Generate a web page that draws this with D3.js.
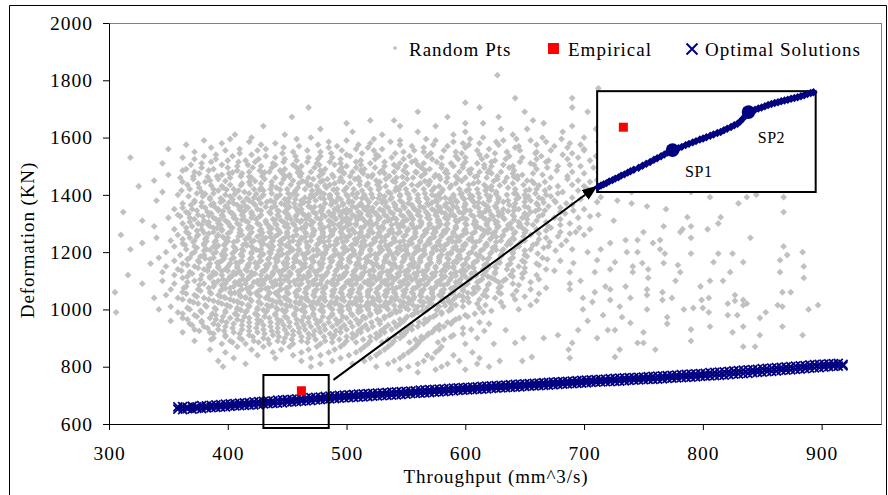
<!DOCTYPE html>
<html>
<head>
<meta charset="utf-8">
<script src="https://cdn.jsdelivr.net/npm/d3@7"></script>
<style>
  body { margin: 0; background: #fff; }
  text { font-family: "Liberation Serif", "Times New Roman", serif; }
</style>
</head>
<body>
<div id="chart"></div>
<script>
// tick labels
var xTicks = [300, 400, 500, 600, 700, 800, 900];
var yTicks = [600, 800, 1000, 1200, 1400, 1600, 1800, 2000];

// Random Pts, one row per deformation level: [deformation, throughput, throughput, ...]
var randomRows = [
  [1818, 627], [1772, 712], [1738, 690, 642], [1722, 600, 735], [1705, 468, 690, 612],
  [1690, 560, 703, 650], [1672, 454, 585, 628, 720], [1660, 520, 657, 540],
  [1650, 500, 600, 666, 760, 615], [1640, 430, 545, 690, 575], [1630, 478, 630, 652, 710],
  [1620, 505, 560, 682, 600, 735], [1610, 406, 448, 530, 590, 640, 780],
  [1600, 420, 470, 615, 665, 700, 725], [1590, 380, 500, 545, 575, 632, 655, 745],
  [1580, 395, 440, 520, 598, 612, 688], [1570, 460, 492, 555, 585, 645, 675, 770],
  [1560, 350, 410, 432, 508, 530, 620, 700, 730],
  [1550, 372, 455, 478, 548, 565, 592, 635, 660, 715, 800, 870],
  [1540, 390, 420, 500, 525, 612, 682, 750],
  [1530, 318, 362, 440, 468, 488, 538, 580, 600, 648, 695, 725],
  [1520, 400, 415, 458, 512, 558, 625, 670, 705, 785],
  [1510, 345, 378, 438, 475, 495, 520, 545, 565, 588, 610, 655, 740, 860],
  [1500, 408, 428, 462, 500, 532, 550, 590, 622, 640, 678, 697, 722],
  [1490, 365, 388, 448, 482, 515, 570, 605, 660, 760],
  [1480, 372, 418, 435, 470, 505, 540, 558, 595, 612, 630, 690, 712, 830],
  [1470, 350, 395, 452, 488, 522, 575, 648, 665, 740, 775, 885],
  [1460, 360, 402, 420, 440, 468, 495, 510, 542, 556, 585, 600, 618, 635, 672, 718],
  [1452, 711], [1450, 338, 385, 455, 480, 525, 570, 652, 695, 750, 805],
  [1440, 375, 412, 428, 445, 460, 490, 503, 518, 548, 562, 592, 607, 640, 658],
  [1430, 325, 395, 475, 533, 578, 622, 678, 700, 730, 765, 860],
  [1420, 368, 388, 405, 422, 436, 450, 465, 492, 506, 520, 550, 565, 595, 610, 642, 660, 703],
  [1410, 345, 378, 414, 478, 535, 580, 626, 682, 740, 790],
  [1400, 358, 398, 430, 444, 458, 470, 486, 500, 515, 528, 545, 560, 572, 590, 604, 618, 635, 650, 668, 845],
  [1392, 714, 806, 837, 868],
  [1390, 385, 410, 422, 452, 465, 478, 493, 508, 522, 538, 553, 567, 583, 598, 612, 628, 645, 662, 690],
  [1380, 340, 372, 396, 418, 436, 462, 474, 488, 502, 530, 545, 560, 575, 592, 606, 620, 636, 655, 675, 728],
  [1370, 362, 388, 405, 428, 445, 456, 482, 497, 512, 525, 540, 552, 568, 584, 600, 615, 642, 660, 685, 740, 830],
  [1360, 378, 398, 415, 440, 468, 478, 505, 518, 533, 548, 562, 577, 590, 608, 625, 650, 670, 753],
  [1350, 355, 370, 392, 410, 425, 450, 462, 490, 500, 515, 528, 542, 557, 572, 586, 600, 618, 632, 645, 662, 700, 769],
  [1340, 312, 365, 383, 402, 420, 435, 448, 472, 485, 510, 523, 537, 552, 567, 580, 595, 612, 628, 655, 680, 868],
  [1330, 358, 375, 395, 412, 428, 442, 458, 468, 480, 495, 505, 518, 532, 546, 560, 575, 590, 605, 622, 640, 665, 712],
  [1322, 787, 815],
  [1320, 350, 368, 388, 405, 420, 450, 475, 490, 500, 512, 528, 540, 555, 568, 583, 598, 615, 632, 648, 675, 695],
  [1310, 328, 380, 398, 415, 432, 445, 462, 470, 485, 520, 535, 548, 562, 578, 592, 608, 625, 660, 725],
  [1300, 362, 375, 392, 408, 425, 440, 455, 478, 495, 508, 525, 542, 555, 570, 585, 600, 618, 638, 652, 688, 813],
  [1290, 338, 370, 385, 402, 418, 435, 448, 465, 485, 500, 515, 530, 548, 562, 578, 592, 610, 628, 645, 670, 767, 790],
  [1280, 355, 378, 395, 410, 428, 442, 458, 472, 490, 505, 520, 538, 552, 568, 585, 600, 620, 635, 660, 705, 783, 804],
  [1270, 365, 388, 402, 420, 435, 450, 465, 480, 495, 512, 528, 545, 558, 575, 590, 608, 625, 642, 680, 693, 750, 781],
  [1260, 310, 358, 375, 392, 412, 428, 442, 458, 472, 488, 503, 518, 535, 550, 565, 580, 598, 615, 632, 655, 700],
  [1250, 340, 368, 382, 400, 418, 432, 448, 462, 478, 495, 510, 525, 540, 556, 572, 588, 605, 622, 640, 668, 790, 840],
  [1242, 735, 745, 764],
  [1240, 352, 372, 390, 408, 422, 438, 455, 470, 485, 500, 515, 532, 548, 562, 578, 595, 612, 630, 650, 685],
  [1232, 328, 722, 758],
  [1230, 362, 380, 398, 415, 430, 445, 460, 476, 492, 508, 522, 538, 555, 570, 585, 600, 618, 638, 660],
  [1220, 355, 372, 388, 405, 420, 438, 452, 468, 482, 498, 512, 528, 545, 560, 575, 592, 608, 625, 645, 670, 868],
  [1210, 318, 365, 382, 398, 412, 428, 445, 460, 475, 490, 505, 520, 535, 550, 565, 582, 598, 615, 632, 655, 690, 714, 764],
  [1200, 348, 372, 390, 405, 420, 435, 452, 468, 482, 498, 512, 528, 542, 558, 572, 588, 605, 622, 640, 703, 736, 745, 884],
  [1195, 768, 790, 813, 825],
  [1190, 360, 380, 398, 412, 428, 442, 458, 475, 490, 505, 520, 535, 550, 565, 580, 595, 612, 630, 650, 871],
  [1180, 342, 368, 388, 405, 420, 435, 450, 465, 480, 495, 510, 525, 540, 555, 570, 585, 602, 620, 640, 665],
  [1172, 711, 865],
  [1170, 355, 375, 395, 412, 428, 442, 458, 472, 488, 502, 518, 532, 548, 562, 578, 592, 610, 628, 648, 680],
  [1165, 726, 809, 834], [1162, 691, 749, 767],
  [1160, 335, 362, 385, 402, 418, 435, 450, 465, 480, 495, 510, 525, 540, 555, 570, 585, 600, 618, 638, 660],
  [1155, 779],
  [1150, 348, 372, 392, 408, 425, 440, 455, 470, 486, 500, 515, 530, 546, 560, 575, 590, 606, 625, 645, 741, 885],
  [1140, 358, 380, 398, 415, 432, 448, 462, 478, 492, 508, 522, 538, 552, 568, 582, 598, 615, 635, 668, 722, 754],
  [1130, 345, 368, 388, 405, 420, 438, 452, 468, 484, 500, 515, 530, 545, 560, 575, 592, 608, 625, 650, 688, 709, 741, 781, 823, 865],
  [1120, 316, 355, 378, 395, 412, 428, 445, 460, 475, 490, 505, 520, 535, 550, 565, 580, 598, 615, 638, 660],
  [1110, 362, 385, 402, 418, 435, 450, 466, 480, 496, 512, 528, 542, 558, 572, 588, 605, 622, 648, 754, 885],
  [1100, 345, 372, 392, 410, 425, 440, 456, 472, 488, 502, 518, 532, 548, 562, 578, 595, 612, 632, 697, 777, 806, 817],
  [1090, 328, 355, 380, 398, 415, 430, 445, 462, 478, 492, 508, 522, 538, 552, 568, 585, 602, 620, 640, 688],
  [1080, 365, 388, 405, 420, 438, 452, 468, 482, 498, 512, 528, 545, 560, 575, 592, 610, 630, 718, 735, 798],
  [1070, 352, 375, 395, 412, 428, 445, 460, 475, 490, 505, 520, 535, 550, 565, 582, 598, 618, 655, 688, 722, 753],
  [1060, 305, 362, 385, 402, 418, 435, 450, 465, 480, 495, 510, 525, 540, 555, 572, 590, 608, 628, 709, 766, 867, 874],
  [1050, 348, 372, 392, 410, 425, 442, 458, 472, 488, 502, 518, 532, 548, 562, 578, 595, 615, 640, 753, 827],
  [1040, 338, 358, 380, 398, 415, 432, 448, 462, 478, 492, 508, 522, 538, 552, 568, 585, 602, 625, 699, 739, 774, 805],
  [1033, 722, 766, 799, 834],
  [1030, 368, 388, 405, 420, 438, 452, 468, 482, 498, 512, 528, 545, 562, 580, 598, 660, 827],
  [1026, 707],
  [1020, 375, 395, 412, 428, 445, 460, 475, 490, 505, 520, 535, 552, 570, 588, 610, 837, 821],
  [1015, 834, 863, 897],
  [1010, 352, 382, 402, 418, 435, 450, 465, 480, 496, 512, 528, 545, 560, 578, 598, 632, 730, 867],
  [1005, 792, 800],
  [1000, 342, 368, 390, 408, 425, 442, 458, 472, 488, 502, 518, 535, 552, 568, 588, 645, 699, 753, 784, 889],
  [990, 306, 358, 378, 398, 415, 432, 448, 465, 480, 495, 510, 526, 542, 560, 580, 615, 805, 853],
  [980, 372, 390, 408, 425, 440, 456, 472, 488, 505, 520, 536, 555, 575, 600, 716, 821, 829],
  [973, 732, 770],
  [970, 362, 385, 402, 418, 435, 450, 468, 485, 500, 516, 532, 550, 570, 595, 848],
  [960, 352, 378, 395, 412, 428, 445, 462, 478, 495, 512, 528, 548, 568, 590, 703],
  [953, 739],
  [950, 368, 388, 405, 425, 442, 458, 475, 492, 510, 528, 545, 565, 588, 620, 770],
  [940, 380, 398, 418, 436, 452, 470, 488, 505, 522, 542, 560, 582, 806, 834, 867],
  [930, 372, 392, 412, 430, 448, 465, 482, 500, 518, 538, 555, 578, 605, 790],
  [928, 634, 695, 720, 726],
  [920, 362, 385, 405, 425, 442, 460, 478, 495, 512, 532, 550, 572, 750, 825],
  [910, 398, 418, 438, 455, 472, 490, 508, 528, 548, 568, 590, 678, 848, 884],
  [900, 388, 410, 430, 448, 468, 488, 505, 525, 545, 565, 610, 649, 666, 711],
  [890, 372, 402, 422, 442, 462, 482, 500, 520, 540, 562, 790],
  [883, 642, 690, 745, 750],
  [880, 395, 415, 435, 455, 478, 498, 518, 538, 560, 600, 624],
  [870, 408, 430, 452, 475, 495, 515, 535, 558, 580, 834, 844],
  [860, 385, 420, 445, 468, 490, 512, 532, 555, 578, 687, 730, 760],
  [850, 398, 438, 462, 485, 508, 528, 552, 575, 606],
  [840, 425, 455, 478, 502, 525, 548, 568, 590],
  [834, 656, 726],
  [830, 405, 440, 470, 495, 520, 545, 572, 612, 688],
  [820, 392, 462, 488, 515, 540, 565, 595, 629, 648],
  [810, 415, 478, 505, 535, 560, 585, 610],
  [800, 396, 470, 525, 552, 580, 620],
  [790, 545, 575, 600], [780, 560]
];

// Random Pts in between the rows above, where the cloud is denser
var randomRowsB = [
  [1595, 402, 458, 523, 567, 604, 643, 681],
  [1585, 418, 485, 537, 590, 626, 668, 712],
  [1575, 365, 428, 476, 510, 545, 573, 603, 628, 660, 697],
  [1565, 386, 447, 485, 518, 565, 600, 642, 686, 745],
  [1555, 398, 425, 467, 496, 523, 557, 582, 610, 646, 672, 700],
  [1545, 410, 446, 487, 513, 541, 571, 597, 625, 659, 690, 725],
  [1535, 380, 404, 432, 457, 478, 503, 527, 553, 568, 592, 618, 637, 664, 710],
  [1525, 372, 390, 426, 448, 476, 495, 524, 548, 572, 594, 614, 634, 660, 686],
  [1515, 386, 409, 423, 447, 467, 486, 508, 532, 555, 576, 600, 622, 646, 668, 720],
  [1505, 369, 395, 417, 440, 455, 477, 490, 512, 540, 560, 580, 598, 616, 632, 658, 688],
  [1495, 378, 400, 421, 437, 458, 473, 496, 508, 524, 543, 563, 580, 598, 616, 637, 669, 708],
  [1485, 362, 384, 408, 427, 444, 460, 478, 494, 512, 530, 548, 566, 584, 603, 620, 641, 677],
  [1475, 376, 401, 412, 430, 446, 462, 480, 498, 514, 532, 551, 566, 585, 604, 622, 640, 657, 700],
  [1465, 371, 391, 411, 429, 448, 461, 477, 503, 518, 536, 563, 578, 592, 610, 627, 644, 686, 730],
  [1455, 371, 392, 431, 447, 472, 484, 507, 533, 551, 579, 594, 627, 644, 686],
  [1445, 362, 381, 418, 437, 466, 478, 497, 528, 541, 570, 584, 611, 633, 667, 705],
  [1435, 366, 402, 419, 453, 470, 486, 511, 526, 555, 569, 603, 616, 649, 690],
  [1425, 376, 396, 428, 441, 459, 483, 500, 528, 542, 574, 587, 618, 636, 671, 718],
  [1415, 361, 392, 409, 430, 457, 471, 498, 513, 541, 557, 572, 601, 617, 651, 667, 695],
  [1405, 374, 388, 418, 437, 451, 475, 492, 509, 537, 551, 566, 597, 611, 641, 659, 678],
  [1395, 367, 379, 402, 429, 441, 472, 486, 501, 515, 532, 545, 575, 590, 606, 621, 653, 672],
  [1385, 385, 404, 426, 448, 457, 481, 495, 517, 537, 553, 568, 587, 599, 628, 643, 665, 697],
  [1375, 372, 394, 413, 433, 451, 468, 491, 505, 519, 533, 561, 576, 593, 607, 632, 650, 676, 711],
  [1365, 369, 386, 408, 423, 448, 461, 487, 497, 511, 541, 555, 569, 583, 600, 617, 637, 661, 690],
  [1355, 362, 381, 400, 417, 437, 457, 470, 480, 508, 522, 535, 549, 565, 579, 593, 611, 626, 653, 680],
  [1345, 374, 392, 411, 428, 442, 460, 479, 493, 503, 517, 530, 545, 559, 574, 588, 604, 620, 641, 667, 691],
  [1335, 367, 386, 404, 420, 436, 450, 463, 474, 489, 500, 512, 525, 539, 553, 568, 583, 598, 614, 631, 650, 684],
  [1325, 360, 379, 396, 413, 427, 443, 457, 468, 482, 495, 507, 520, 534, 548, 562, 576, 591, 607, 623, 641, 662, 705],
  [1315, 372, 390, 407, 424, 438, 453, 466, 478, 491, 503, 514, 527, 542, 556, 570, 585, 601, 617, 633, 652, 680],
  [1305, 368, 384, 400, 417, 432, 447, 461, 472, 487, 500, 516, 532, 548, 563, 577, 593, 609, 627, 645, 668],
  [1295, 378, 394, 410, 427, 441, 456, 470, 478, 493, 508, 522, 538, 555, 570, 584, 601, 618, 636, 657, 680],
  [1285, 365, 388, 404, 420, 435, 451, 465, 481, 495, 512, 527, 544, 559, 576, 592, 609, 627, 648, 672, 696],
  [1275, 374, 395, 411, 427, 443, 457, 473, 487, 502, 519, 536, 551, 566, 582, 599, 616, 633, 651, 668],
  [1265, 367, 384, 400, 419, 436, 450, 466, 480, 496, 511, 527, 543, 558, 573, 590, 606, 623, 641, 662, 688],
  [1255, 374, 391, 409, 425, 440, 455, 470, 486, 502, 518, 533, 548, 564, 580, 596, 614, 631, 649, 678],
  [1245, 362, 381, 398, 415, 430, 446, 462, 477, 492, 507, 523, 540, 555, 570, 586, 603, 621, 641, 662],
  [1235, 371, 389, 405, 420, 437, 452, 466, 481, 497, 513, 529, 545, 562, 577, 592, 609, 626, 647, 671],
  [1225, 364, 380, 397, 413, 429, 444, 459, 475, 490, 505, 520, 536, 552, 567, 583, 600, 617, 635, 657, 681],
  [1215, 374, 390, 406, 421, 436, 452, 467, 483, 497, 513, 528, 543, 558, 573, 590, 607, 623, 642, 666],
  [1205, 380, 397, 413, 427, 443, 460, 476, 490, 506, 520, 536, 550, 565, 580, 596, 613, 631, 650, 676],
  [1195, 370, 388, 404, 420, 436, 450, 466, 482, 497, 512, 527, 543, 557, 572, 588, 603, 621, 640, 661],
  [1185, 377, 396, 412, 427, 443, 457, 472, 488, 503, 518, 533, 548, 563, 578, 594, 611, 630, 652],
  [1175, 366, 385, 403, 419, 434, 450, 465, 480, 496, 511, 525, 540, 555, 570, 586, 601, 619, 638, 669],
  [1165, 376, 393, 410, 426, 441, 456, 472, 487, 503, 517, 532, 547, 562, 578, 593, 608, 627, 650],
  [1155, 366, 384, 401, 417, 432, 448, 463, 478, 493, 508, 523, 538, 553, 568, 583, 598, 616, 636, 662],
  [1145, 375, 392, 408, 424, 440, 455, 470, 485, 500, 515, 530, 545, 560, 575, 590, 607, 626, 650],
  [1135, 361, 383, 400, 416, 431, 446, 461, 476, 491, 507, 523, 537, 552, 567, 583, 600, 617, 640, 675],
  [1125, 370, 390, 407, 423, 438, 453, 468, 483, 498, 513, 528, 543, 557, 572, 588, 605, 625, 648],
  [1115, 366, 385, 402, 418, 433, 449, 464, 479, 494, 508, 523, 538, 553, 567, 583, 600, 619, 640],
  [1105, 377, 396, 413, 428, 444, 459, 474, 489, 505, 520, 535, 550, 565, 580, 596, 614, 634, 662],
  [1095, 366, 388, 406, 422, 437, 452, 468, 484, 500, 515, 530, 545, 560, 576, 592, 610, 628, 655],
  [1085, 376, 395, 411, 428, 444, 460, 475, 490, 505, 520, 535, 551, 566, 582, 600, 619, 645],
  [1075, 363, 384, 402, 418, 434, 450, 467, 482, 497, 512, 527, 542, 558, 574, 590, 607, 628, 668],
  [1065, 377, 394, 410, 426, 443, 458, 473, 488, 503, 518, 533, 548, 563, 580, 598, 617, 643],
  [1055, 365, 386, 403, 419, 435, 451, 466, 481, 496, 511, 526, 541, 556, 572, 588, 606, 630, 662],
  [1045, 374, 394, 411, 427, 443, 458, 473, 488, 503, 518, 533, 548, 563, 580, 598, 618, 650],
  [1035, 362, 384, 402, 419, 435, 450, 466, 481, 496, 511, 526, 541, 556, 572, 590, 612, 642],
  [1025, 371, 392, 409, 426, 441, 457, 472, 487, 503, 518, 533, 548, 565, 582, 603, 630],
  [1015, 381, 399, 417, 433, 449, 464, 479, 494, 509, 524, 540, 556, 573, 592, 617, 655],
  [1005, 366, 389, 408, 425, 441, 457, 472, 487, 502, 518, 534, 550, 568, 588, 612],
  [995, 377, 398, 416, 433, 449, 464, 480, 496, 512, 528, 545, 564, 586, 622],
  [985, 362, 387, 406, 423, 440, 456, 472, 488, 504, 520, 538, 557, 580, 608],
  [975, 374, 396, 414, 431, 448, 464, 480, 497, 514, 532, 551, 573, 602],
  [965, 366, 390, 408, 425, 442, 458, 474, 491, 508, 526, 545, 566, 592],
  [955, 378, 399, 418, 436, 452, 468, 485, 503, 521, 540, 561, 585, 612],
  [945, 370, 392, 412, 430, 447, 464, 481, 498, 516, 535, 555, 578],
  [935, 383, 404, 424, 442, 460, 477, 495, 513, 532, 552, 575, 598],
  [925, 376, 397, 418, 437, 455, 473, 491, 510, 529, 550, 573, 616],
  [915, 388, 410, 431, 450, 468, 486, 505, 525, 546, 569, 598],
  [905, 398, 421, 443, 462, 481, 500, 520, 541, 563, 588],
  [895, 386, 412, 434, 454, 474, 494, 514, 535, 558, 582],
  [885, 404, 426, 447, 467, 488, 508, 530, 553, 577]
];

// Random Pts of the dense core of the cloud
var randomRowsC = [
  [1478, 404, 431, 459, 497, 528, 559, 583, 619],
  [1463, 383, 418, 452, 489, 521, 547, 574, 608, 641],
  [1448, 398, 423, 463, 494, 511, 539, 566, 597, 624, 656],
  [1433, 386, 411, 437, 468, 482, 517, 546, 560, 588, 629, 662],
  [1418, 399, 427, 444, 476, 489, 527, 544, 581, 603, 622, 654],
  [1403, 381, 406, 424, 455, 481, 505, 521, 552, 578, 596, 626, 643],
  [1388, 394, 416, 441, 469, 486, 513, 527, 560, 579, 604, 620, 651],
  [1373, 378, 401, 421, 439, 464, 488, 502, 530, 547, 572, 588, 611, 627, 666],
  [1358, 389, 411, 432, 452, 473, 493, 514, 541, 556, 584, 599, 619, 641],
  [1343, 396, 414, 443, 459, 478, 497, 520, 531, 561, 577, 600, 617, 636, 659],
  [1328, 384, 405, 421, 451, 465, 487, 511, 526, 554, 569, 587, 612, 628, 652],
  [1313, 393, 412, 440, 458, 478, 497, 509, 537, 551, 577, 595, 620, 641],
  [1298, 383, 401, 433, 450, 466, 489, 503, 519, 546, 563, 579, 607, 626, 646],
  [1283, 391, 417, 437, 462, 478, 497, 513, 531, 557, 573, 592, 613, 639],
  [1268, 380, 410, 429, 444, 472, 488, 507, 522, 539, 567, 583, 601, 619, 650],
  [1253, 396, 417, 436, 451, 465, 481, 499, 514, 529, 558, 574, 593, 626],
  [1238, 382, 400, 427, 444, 460, 478, 491, 508, 524, 541, 553, 569, 589, 606, 637],
  [1223, 392, 416, 434, 449, 467, 486, 504, 516, 533, 549, 566, 579, 598, 618, 644],
  [1208, 385, 407, 424, 437, 455, 472, 483, 501, 513, 530, 546, 561, 576, 593, 626],
  [1193, 395, 411, 430, 446, 463, 479, 493, 507, 524, 538, 552, 566, 585, 609, 631],
  [1178, 381, 397, 419, 440, 456, 470, 486, 502, 516, 533, 549, 562, 578, 596, 615],
  [1163, 391, 407, 423, 447, 461, 477, 494, 509, 521, 536, 557, 571, 590, 607, 629],
  [1148, 384, 400, 417, 433, 450, 465, 479, 496, 512, 527, 542, 556, 568, 586, 603, 620],
  [1133, 395, 410, 429, 443, 459, 473, 491, 506, 519, 534, 549, 564, 580, 596, 617],
  [1118, 387, 404, 420, 437, 452, 469, 482, 498, 513, 528, 544, 559, 574, 592, 609],
  [1103, 400, 416, 431, 448, 462, 479, 493, 509, 525, 540, 555, 570, 587, 603, 625],
  [1088, 389, 409, 426, 441, 457, 472, 488, 503, 518, 533, 547, 562, 579, 596],
  [1073, 398, 416, 432, 449, 466, 480, 496, 511, 526, 539, 556, 571, 588, 611],
  [1058, 406, 424, 440, 457, 473, 489, 504, 518, 534, 549, 563, 581, 602],
  [1043, 397, 415, 433, 448, 466, 481, 497, 512, 527, 542, 557, 573, 592],
  [1028, 408, 426, 444, 461, 476, 491, 507, 522, 537, 553, 570, 586],
  [1013, 400, 418, 437, 453, 470, 485, 501, 516, 531, 547, 564, 583],
  [998, 411, 430, 446, 462, 478, 494, 510, 525, 541, 558, 576]
];

// Optimal Solutions: [throughput, deformation, deformation]
var optimalRows = [
  [358, 652, 660], [362, 650, 661], [366, 654, 658], [370, 652, 662], [374, 655, 660],
  [378, 654, 664], [382, 656, 663], [386, 657, 665], [390, 658, 667], [394, 659, 668],
  [398, 660, 669], [402, 662, 670], [406, 663, 671], [410, 664, 673], [414, 665, 674],
  [418, 666, 675], [422, 667, 677], [426, 668, 678], [430, 670, 679], [434, 671, 680],
  [438, 672, 681], [442, 673, 683], [446, 674, 684], [450, 676, 685], [454, 677, 686],
  [458, 678, 688], [462, 680, 689], [466, 681, 690], [470, 682, 692], [474, 684, 693],
  [478, 685, 694], [482, 686, 696], [486, 688, 697], [490, 689, 698], [494, 690, 700],
  [498, 691, 701], [502, 692, 702], [506, 693, 703], [510, 694, 704], [514, 695, 705],
  [518, 696, 706], [522, 697, 707], [526, 698, 708], [530, 699, 709], [534, 700, 710],
  [538, 701, 711], [542, 702, 712], [546, 703, 713], [550, 704, 714], [554, 706, 715],
  [558, 707, 716], [562, 708, 718], [566, 709, 719], [570, 710, 720], [574, 711, 721],
  [578, 712, 722], [582, 713, 723], [586, 715, 724], [590, 716, 725], [594, 717, 726],
  [598, 718, 727], [602, 719, 728], [606, 720, 729], [610, 721, 730], [614, 722, 731],
  [618, 723, 732], [622, 724, 733], [626, 725, 734], [630, 726, 735], [634, 727, 736],
  [638, 728, 737], [642, 729, 738], [646, 730, 739], [650, 731, 740], [654, 732, 741],
  [658, 733, 742], [662, 734, 743], [666, 735, 744], [670, 736, 745], [674, 737, 746],
  [678, 738, 747], [682, 739, 748], [686, 740, 749], [690, 741, 750], [694, 742, 751],
  [698, 743, 752], [702, 744, 753], [706, 745, 754], [710, 746, 755], [714, 747, 756],
  [718, 748, 757], [722, 748, 758], [726, 749, 759], [730, 750, 760], [734, 751, 761],
  [738, 752, 762], [742, 753, 762], [746, 754, 763], [750, 755, 764], [754, 756, 765],
  [758, 756, 766], [762, 757, 767], [766, 758, 768], [770, 759, 769], [774, 760, 770],
  [778, 761, 771], [782, 762, 772], [786, 763, 773], [790, 764, 774], [794, 765, 775],
  [798, 766, 776], [802, 767, 777], [806, 768, 779], [810, 769, 780], [814, 770, 781],
  [818, 771, 782], [822, 772, 784], [826, 774, 785], [830, 775, 786], [834, 776, 788],
  [838, 777, 789], [842, 779, 790], [846, 780, 791], [850, 781, 793], [854, 783, 794],
  [858, 784, 795], [862, 785, 797], [866, 787, 798], [870, 788, 799], [874, 789, 800],
  [878, 791, 802], [882, 792, 803], [886, 793, 804], [890, 795, 806], [894, 796, 807],
  [898, 797, 808], [902, 799, 809], [906, 800, 810], [910, 801, 811], [914, 802, 812],
  [918, 803, 808]
];

var empirical = [[462, 716]];

// magnified region, the box the magnified view sits in, and the arrow (data units)
var zoomBox = {x: [430, 485], y: [586, 771]};
var insetBox = {x: [711, 895], y: [1410, 1762]};
var arrowFrom = [489, 754], arrowTo = [711, 1431];

// magnified view contents
var insetDomainX = [440, 480], insetDomainY = [680, 720];
var insetLine = [
  [440.2, 682.0], [440.7, 682.6], [441.2, 683.1], [441.7, 683.5], [442.2, 684.2], [442.8, 684.7],
  [443.3, 685.3], [443.9, 685.8], [444.4, 686.5], [445.0, 687.0], [445.6, 687.7], [446.1, 688.2],
  [446.7, 688.8], [447.6, 689.6], [448.3, 690.4], [449.0, 691.2], [449.7, 691.9], [450.4, 692.8],
  [451.0, 693.4], [451.7, 694.2], [452.3, 694.9], [452.9, 695.6], [453.4, 696.1], [454.3, 697.0],
  [454.9, 697.4], [455.5, 697.9], [456.2, 698.6], [456.8, 699.1], [457.5, 699.7], [458.1, 700.2],
  [458.8, 700.8], [459.4, 701.2], [460.0, 701.7], [460.7, 702.3], [461.3, 702.8], [462.0, 703.4],
  [462.6, 703.8], [463.2, 704.5], [463.8, 705.1], [464.5, 705.8], [465.1, 706.5], [465.7, 707.1],
  [466.2, 708.0], [466.7, 709.2], [467.2, 710.4], [467.7, 711.6], [468.3, 712.1], [468.9, 712.6],
  [469.5, 713.1], [470.1, 713.5], [470.7, 714.0], [471.3, 714.5], [471.9, 714.9], [472.5, 715.3],
  [473.1, 715.6], [473.7, 716.0], [474.3, 716.3], [474.9, 716.6], [475.5, 717.0], [476.1, 717.3],
  [476.7, 717.6], [477.3, 718.0], [477.9, 718.4], [478.5, 718.9], [479.1, 719.3], [479.6, 719.6]
];
var insetEmpirical = [[444.8, 705.7]];
var spPoints = [[453.8, 696.6], [467.7, 711.7]];
var spNames = ["SP1", "SP2"];
var spLabelAt = [[456.1, 685.9], [469.4, 699.4]];

var legendNames = ["Random Pts", "Empirical", "Optimal Solutions"];

// set the dimensions and margins of the graph
var margin = {top: 23, right: 7, bottom: 71, left: 109},
    width = 888 - margin.left - margin.right,
    height = 495 - margin.top - margin.bottom;

var root = d3.select("#chart")
  .append("svg")
    .attr("width", 888)
    .attr("height", 495);

// outer frame
root.append("path")
  .attr("d", "M9.5,495V5.5H886.5V495")
  .attr("fill", "none")
  .attr("stroke", "#000")
  .attr("stroke-width", 1);

var svg = root.append("g")
  .attr("transform", "translate(" + margin.left + "," + margin.top + ")");

var x = d3.scaleLinear().domain([300, 950]).range([0, width]);
var y = d3.scaleLinear().domain([600, 2000]).range([height, 0]);

// plot border (top / right in grey)
svg.append("rect")
  .attr("x", 0.5).attr("y", 0.5)
  .attr("width", width).attr("height", height)
  .attr("fill", "#fff")
  .attr("stroke", "#808080");

var diamond = "M0,-3.4L3.4,0L0,3.4L-3.4,0Z";
var cross = "M-4.5,-4.5L4.5,4.5M-4.5,4.5L4.5,-4.5";

// random points
function rowsToPts(rows) {
  return rows.flatMap(function(r) {
    return r.slice(1).map(function(v) { return [v, r[0]]; });
  });
}
var randomPts = rowsToPts(randomRows)
  .concat(rowsToPts(randomRowsB))
  .concat(rowsToPts(randomRowsC));
svg.append("g")
  .selectAll("path")
  .data(randomPts)
  .enter()
  .append("path")
    .attr("d", diamond)
    .attr("transform", function(d) { return "translate(" + x(d[0]) + "," + y(d[1]) + ")"; })
    .attr("fill", "#c0c0c0");

// optimal solutions
var optimalPts = optimalRows.flatMap(function(r) {
  return r.slice(1).map(function(v) { return [r[0], v]; });
});
svg.append("g")
  .selectAll("path")
  .data(optimalPts)
  .enter()
  .append("path")
    .attr("d", cross)
    .attr("transform", function(d) { return "translate(" + x(d[0]) + "," + y(d[1]) + ")"; })
    .attr("fill", "none")
    .attr("stroke", "#000080")
    .attr("stroke-width", 1.8);

// empirical
svg.append("g")
  .selectAll("rect")
  .data(empirical)
  .enter()
  .append("rect")
    .attr("x", function(d) { return x(d[0]) - 4.5; })
    .attr("y", function(d) { return y(d[1]) - 4.5; })
    .attr("width", 9).attr("height", 9)
    .attr("fill", "#ff0000");

// Add X axis
var xAxis = svg.append("g")
  .attr("transform", "translate(0," + height + ")")
  .call(d3.axisBottom(x).tickValues(xTicks).tickFormat(d3.format("d")).tickSize(6).tickSizeOuter(0));
xAxis.selectAll("text").attr("y", 36).attr("dy", 0);

// Add Y axis
var yAxis = svg.append("g")
  .call(d3.axisLeft(y).tickValues(yTicks).tickFormat(d3.format("d")).tickSize(6).tickSizeOuter(0).tickPadding(10));

[xAxis, yAxis].forEach(function(a) {
  a.select(".domain").attr("stroke", "#000");
  a.selectAll("line").attr("stroke", "#000");
  a.selectAll("text")
    .attr("fill", "#000")
    .style("font-family", '"Liberation Serif", serif')
    .style("font-size", "19.5px")
    .style("letter-spacing", "1px");
});

// axis titles
root.append("text")
  .attr("x", 496).attr("y", 483)
  .attr("text-anchor", "middle")
  .style("font-size", "19px")
  .style("letter-spacing", "0.9px")
  .text("Throughput (mm^3/s)");

root.append("text")
  .attr("transform", "translate(34,240) rotate(-90)")
  .attr("text-anchor", "middle")
  .style("font-size", "19px")
  .style("letter-spacing", "0.9px")
  .text("Deformation (KN)");

// magnified region box
svg.append("rect")
  .attr("x", x(zoomBox.x[0])).attr("y", y(zoomBox.y[1]))
  .attr("width", x(zoomBox.x[1]) - x(zoomBox.x[0]))
  .attr("height", y(zoomBox.y[0]) - y(zoomBox.y[1]))
  .attr("fill", "none")
  .attr("stroke", "#000")
  .attr("stroke-width", 2);

// arrow
root.append("defs").append("marker")
  .attr("id", "head")
  .attr("markerUnits", "userSpaceOnUse")
  .attr("viewBox", "0 0 16 12")
  .attr("markerWidth", 16).attr("markerHeight", 12)
  .attr("refX", 15).attr("refY", 6)
  .attr("orient", "auto")
  .append("path")
    .attr("d", "M0,0L16,6L0,12Z")
    .attr("fill", "#000");

svg.append("line")
  .attr("x1", x(arrowFrom[0])).attr("y1", y(arrowFrom[1]))
  .attr("x2", x(arrowTo[0])).attr("y2", y(arrowTo[1]))
  .attr("stroke", "#000")
  .attr("stroke-width", 2)
  .attr("marker-end", "url(#head)");

// magnified view
svg.append("rect")
  .attr("x", x(insetBox.x[0])).attr("y", y(insetBox.y[1]))
  .attr("width", x(insetBox.x[1]) - x(insetBox.x[0]))
  .attr("height", y(insetBox.y[0]) - y(insetBox.y[1]))
  .attr("fill", "#fff")
  .attr("stroke", "#000")
  .attr("stroke-width", 2);

var ix = d3.scaleLinear().domain(insetDomainX).range([x(insetBox.x[0]), x(insetBox.x[1])]);
var iy = d3.scaleLinear().domain(insetDomainY).range([y(insetBox.y[0]), y(insetBox.y[1])]);

var inset = svg.append("g");
inset.selectAll(".il")
  .data(insetLine)
  .enter()
  .append("path")
    .attr("class", "il")
    .attr("d", "M0,-4.2L4.2,0L0,4.2L-4.2,0Z")
    .attr("transform", function(d) { return "translate(" + ix(d[0]) + "," + iy(d[1]) + ")"; })
    .attr("fill", "#000080");

inset.selectAll(".ie")
  .data(insetEmpirical)
  .enter()
  .append("rect")
    .attr("class", "ie")
    .attr("x", function(d) { return ix(d[0]) - 4.5; })
    .attr("y", function(d) { return iy(d[1]) - 4.5; })
    .attr("width", 9).attr("height", 9)
    .attr("fill", "#ff0000");

inset.selectAll(".sp")
  .data(spPoints)
  .enter()
  .append("circle")
    .attr("class", "sp")
    .attr("cx", function(d) { return ix(d[0]); })
    .attr("cy", function(d) { return iy(d[1]); })
    .attr("r", 6.8)
    .attr("fill", "#000080");

inset.selectAll(".spl")
  .data(spNames)
  .enter()
  .append("text")
    .attr("class", "spl")
    .attr("x", function(d, i) { return ix(spLabelAt[i][0]); })
    .attr("y", function(d, i) { return iy(spLabelAt[i][1]); })
    .style("font-size", "16px")
    .style("letter-spacing", "0.5px")
    .text(function(d) { return d; });

// legend
var legend = root.append("g");
legend.append("path")
  .attr("d", "M0,-2.2L2.2,0L0,2.2L-2.2,0Z")
  .attr("transform", "translate(395,48)")
  .attr("fill", "#c0c0c0");
legend.append("rect")
  .attr("x", 548).attr("y", 43).attr("width", 11).attr("height", 11)
  .attr("fill", "#ff0000");
legend.append("path")
  .attr("d", "M-5.5,-5.5L5.5,5.5M-5.5,5.5L5.5,-5.5")
  .attr("transform", "translate(692,49)")
  .attr("stroke", "#000080")
  .attr("stroke-width", 2)
  .attr("fill", "none");
legend.selectAll("text")
  .data(legendNames)
  .enter()
  .append("text")
    .attr("x", function(d, i) { return [409, 568, 705][i]; })
    .attr("y", 56)
    .style("font-size", "19px")
    .style("letter-spacing", "1px")
    .text(function(d) { return d; });
</script>
</body>
</html>
